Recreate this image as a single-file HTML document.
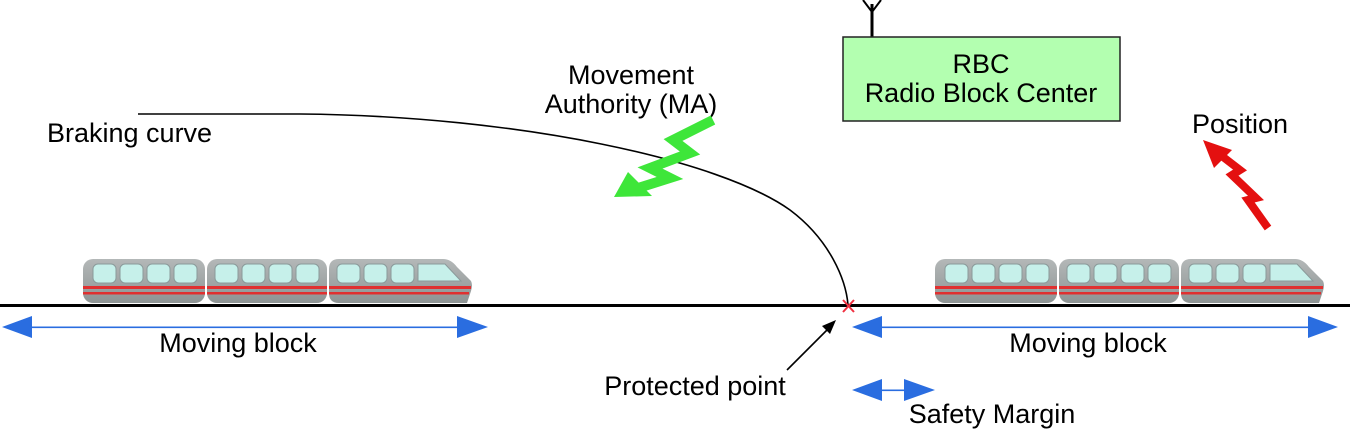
<!DOCTYPE html>
<html><head><meta charset="utf-8"><style>
html,body{margin:0;padding:0;background:#fff;}
svg{display:block;}
text{font-family:"Liberation Sans",sans-serif;font-size:27px;fill:#000;}
</style></head><body>
<svg width="1350" height="429" viewBox="0 0 1350 429" xmlns="http://www.w3.org/2000/svg">
<defs>
<linearGradient id="cg" x1="0" y1="0" x2="0" y2="1">
<stop offset="0" stop-color="#b4b8b8"/><stop offset="1" stop-color="#8e9494"/></linearGradient>
<g id="train">
 <rect x="0" y="0" width="122" height="44" rx="10" fill="url(#cg)"/>
 <rect x="124" y="0" width="120" height="44" rx="10" fill="url(#cg)"/>
 <path d="M246 10 Q246 0 256 0 L360 0 Q368 0 374 8 L388 22 Q390 26 388 32 L384 44 L256 44 Q246 44 246 34 Z" fill="url(#cg)"/>
 <g fill="#c6f0ea" stroke="#8a9a9a" stroke-width="1">
  <rect x="10" y="5" width="23" height="19" rx="5"/><rect x="37" y="5" width="23" height="19" rx="5"/><rect x="64" y="5" width="23" height="19" rx="5"/><rect x="91" y="5" width="23" height="19" rx="5"/>
  <rect x="132" y="5" width="23" height="19" rx="5"/><rect x="159" y="5" width="23" height="19" rx="5"/><rect x="186" y="5" width="23" height="19" rx="5"/><rect x="213" y="5" width="23" height="19" rx="5"/>
  <rect x="254" y="5" width="23" height="19" rx="5"/><rect x="281" y="5" width="23" height="19" rx="5"/><rect x="308" y="5" width="23" height="19" rx="5"/>
  <path d="M335 5 L362 5 L378 22 L335 22 Z"/>
 </g>
 <g fill="#e03030">
  <rect x="0" y="27" width="122" height="3"/><rect x="0" y="33" width="122" height="2.5"/>
  <rect x="124" y="27" width="120" height="3"/><rect x="124" y="33" width="120" height="2.5"/>
  <rect x="246" y="27" width="142" height="3"/><rect x="246" y="33" width="140" height="2.5"/>
 </g>
</g>
</defs>

<!-- antenna -->
<line x1="872" y1="37" x2="872" y2="4" stroke="#000" stroke-width="3"/>
<path d="M863 0 L872 12 L881 0" fill="none" stroke="#000" stroke-width="2"/>
<!-- RBC box -->
<rect x="843" y="37" width="277" height="84" fill="#b3ffb0" stroke="#222" stroke-width="1.5"/>
<text x="981" y="73" text-anchor="middle">RBC</text>
<text x="981" y="102" text-anchor="middle">Radio Block Center</text>

<text x="47" y="142">Braking curve</text>
<text x="631" y="84" text-anchor="middle">Movement</text>
<text x="631" y="113" text-anchor="middle">Authority (MA)</text>
<text x="1240" y="133" text-anchor="middle">Position</text>

<!-- braking curve -->
<path d="M138 114 L300 114 C520 116 720 160 790 210 C830 240 846 280 848 305" fill="none" stroke="#000" stroke-width="1.6"/>

<!-- green bolt -->
<polyline points="713,120 673,140 690,153 650,168 670,178 632,190" fill="none" stroke="#3ee63a" stroke-width="10" stroke-linejoin="miter"/>
<polygon points="614,197 628,172 652,196" fill="#3ee63a"/>
<!-- red bolt -->
<polyline points="1214,150 1240,170 1232,175 1256,198 1248,200 1268,228" fill="none" stroke="#e41010" stroke-width="8"/>
<polygon points="1203,140 1232,150 1214,168" fill="#e41010"/>

<!-- trains -->
<use href="#train" x="83" y="259"/>
<use href="#train" x="935" y="259"/>

<!-- track -->
<rect x="0" y="304" width="1350" height="3" fill="#000"/>
<!-- red x -->
<path d="M843 300 L854 312 M854 300 L843 312" stroke="#f03040" stroke-width="2"/>

<!-- moving block arrows -->
<g fill="#2a6de0" stroke="none">
<rect x="30" y="326.5" width="430" height="1.6"/>
<polygon points="2,327 32,316 32,338"/><polygon points="488,327 457,316 457,338"/>
<rect x="880" y="326.5" width="430" height="1.6"/>
<polygon points="852,327 882,316 882,338"/><polygon points="1338,327 1308,316 1308,338"/>
<rect x="880" y="389.5" width="28" height="1.6"/>
<polygon points="852,390 882,379 882,401"/><polygon points="935,390 904,379 904,401"/>
</g>
<text x="238" y="352" text-anchor="middle">Moving block</text>
<text x="1088" y="352" text-anchor="middle">Moving block</text>

<!-- protected point arrow -->
<line x1="787" y1="370" x2="830" y2="327" stroke="#000" stroke-width="1.6"/>
<polygon points="836,320 822,326 830,334" fill="#000"/>
<text x="695" y="395" text-anchor="middle">Protected point</text>
<text x="992" y="423" text-anchor="middle">Safety Margin</text>
</svg>
</body></html>
